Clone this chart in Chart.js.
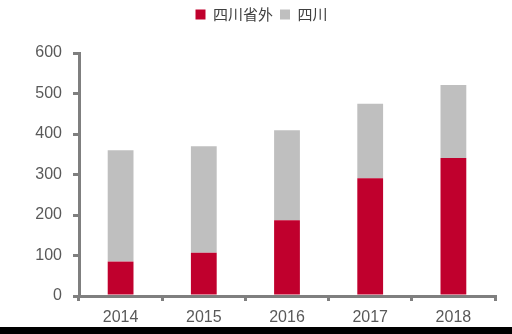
<!DOCTYPE html>
<html>
<head>
<meta charset="utf-8">
<script src="https://cdn.jsdelivr.net/npm/chart.js@4.4.1/dist/chart.umd.min.js"></script>
<style>
  html, body { margin: 0; padding: 0; background: #000; }
  #wrap { width: 512px; height: 327px; background: #fff; }
</style>
</head>
<body>
<div id="wrap"><canvas id="myChart" width="512" height="327"></canvas></div>
<script>
'use strict';

let years = ['2014', '2015', '2016', '2017', '2018'];
let outsideSichuan = [85, 107, 187, 291, 341];
let sichuan = [275, 263, 222, 184, 180];
let yTicks = [0, 100, 200, 300, 400, 500, 600];

let axisGray = '#7f7f7f';
let textGray = '#595959';

let ctx = document.getElementById('myChart').getContext('2d');
let myChart = new Chart(ctx, {
    type: 'bar',
    data: {
        labels: years,
        datasets: [{
            label: '四川省外',
            data: outsideSichuan,
            backgroundColor: '#c0002d',
            barPercentage: 0.31,
            categoryPercentage: 1
        }, {
            label: '四川',
            data: sichuan,
            backgroundColor: '#bfbfbf',
            barPercentage: 0.31,
            categoryPercentage: 1
        }]
    },
    options: {
        responsive: false,
        animation: false,
        layout: { padding: { right: 17 } },
        plugins: {
            tooltip: { enabled: false },
            legend: {
                position: 'top',
                labels: {
                    boxWidth: 10,
                    boxHeight: 10,
                    padding: 7,
                    color: '#404040',
                    font: { family: '"Noto Sans CJK SC"', size: 15 }
                }
            }
        },
        scales: {
            x: {
                stacked: true,
                grid: {
                    drawOnChartArea: false,
                    color: axisGray,
                    lineWidth: 3,
                    tickLength: 5
                },
                border: { color: axisGray, width: 3 },
                ticks: {
                    color: textGray,
                    padding: 7,
                    font: { family: '"Liberation Sans"', size: 16 }
                },
                afterFit: function (scale) { scale.height = 31; }
            },
            y: {
                stacked: true,
                min: yTicks[0],
                max: yTicks[yTicks.length - 1],
                afterBuildTicks: function (scale) {
                    scale.ticks = yTicks.map(v => ({ value: v }));
                },
                grid: {
                    drawOnChartArea: false,
                    color: axisGray,
                    lineWidth: 3,
                    tickLength: 6
                },
                border: { color: axisGray, width: 3 },
                ticks: {
                    color: textGray,
                    padding: 11,
                    font: { family: '"Liberation Sans"', size: 16 }
                },
                afterFit: function (scale) { scale.width = 79; }
            }
        }
    }
});

// make the legend box taller so the plot starts lower, like the original
let legendFit = myChart.legend.fit;
myChart.legend.fit = function () {
    legendFit.call(this);
    this.height = 53;
};
// the original legend sits a bit right of the page centre
let legendDraw = myChart.legend.draw;
myChart.legend.draw = function () {
    this.ctx.save();
    this.ctx.translate(14, 0);
    legendDraw.call(this);
    this.ctx.restore();
};
myChart.update();
</script>
</body>
</html>
